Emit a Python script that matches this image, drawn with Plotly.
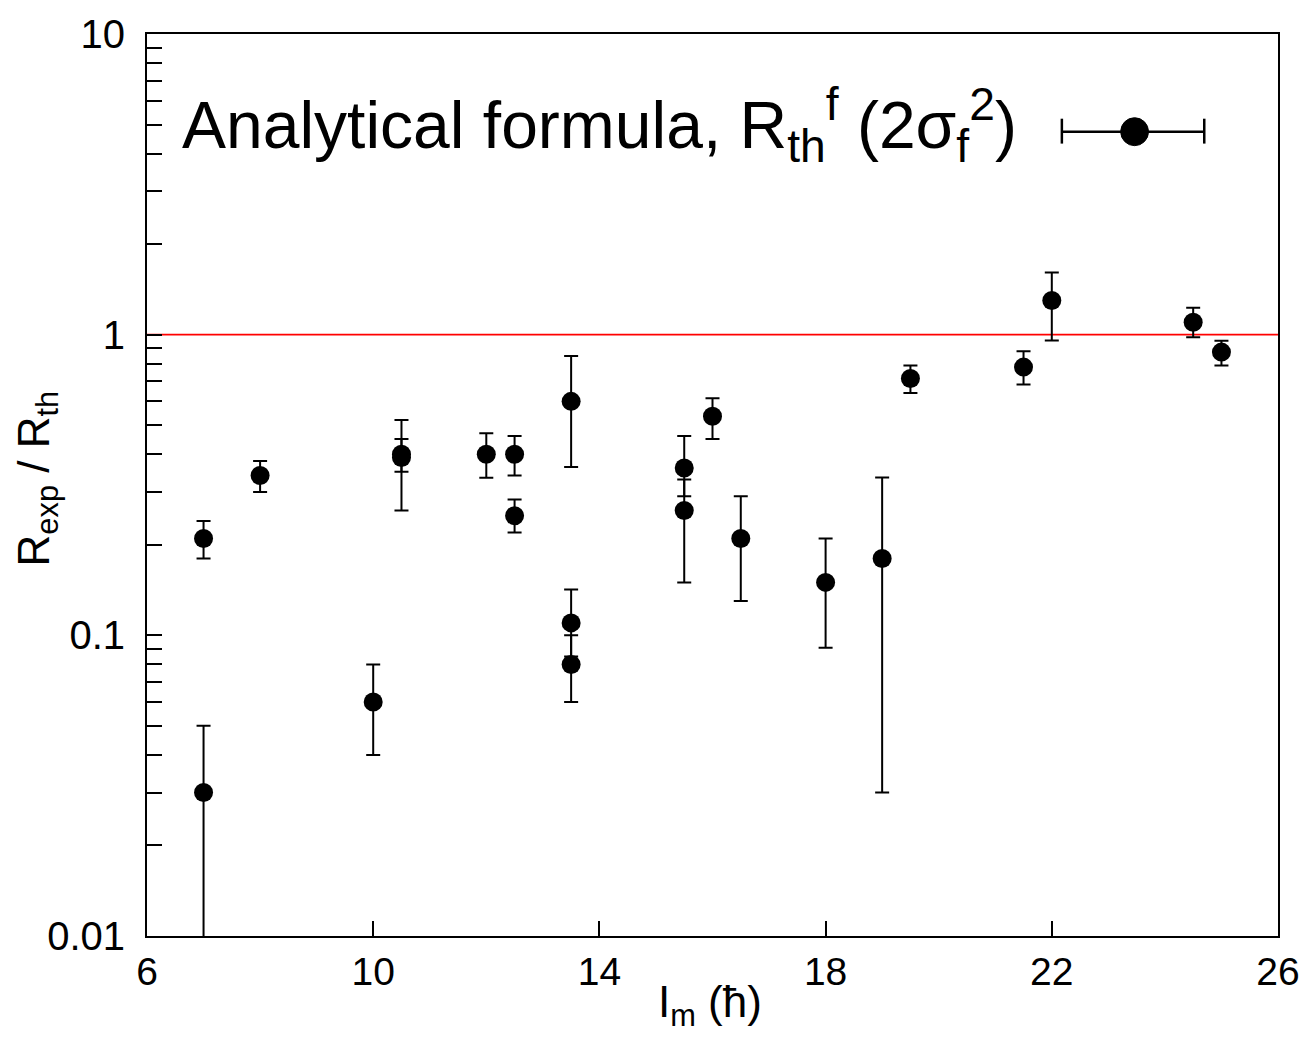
import plotly.graph_objects as go

# Measured ratio R_exp / R_th versus mean angular momentum I_m
im = [7.0, 7.0, 8.0, 10.0, 10.5, 10.5, 12.0, 12.5, 12.5, 13.5, 13.5, 13.5,
      15.5, 15.5, 16.0, 16.5, 18.0, 19.0, 19.5, 21.5, 22.0, 24.5, 25.0]
ratio = [0.21, 0.030, 0.34, 0.060, 0.40, 0.39, 0.40, 0.40, 0.25, 0.60, 0.11, 0.080,
         0.36, 0.26, 0.535, 0.21, 0.15, 0.18, 0.715, 0.78, 1.30, 1.10, 0.875]
ratio_hi = [0.24, 0.050, 0.38, 0.080, 0.45, 0.52, 0.47, 0.46, 0.283, 0.85, 0.142, 0.10,
            0.46, 0.33, 0.615, 0.29, 0.21, 0.335, 0.79, 0.88, 1.61, 1.23, 0.955]
ratio_lo = [0.18, 0.004, 0.30, 0.040, 0.35, 0.26, 0.334, 0.34, 0.22, 0.363, 0.085, 0.060,
            0.29, 0.15, 0.45, 0.13, 0.091, 0.030, 0.64, 0.683, 0.956, 0.98, 0.79]

x_ticks = [6, 10, 14, 18, 22, 26]
decades = [0.01, 0.1, 1, 10]
decade_labels = ["0.01", "0.1", "1", "10"]
reference_level = 1.0

FONT = "Liberation Sans, Arial, Helvetica, sans-serif"

# major + minor log ticks (minor ones unlabeled)
y_tickvals, y_ticktext = [], []
for d, lab in zip(decades, decade_labels):
    y_tickvals.append(d)
    y_ticktext.append(lab)
    if d < 10:
        for m in range(2, 10):
            y_tickvals.append(d * m)
            y_ticktext.append("")

err_plus = [h - r for h, r in zip(ratio_hi, ratio)]
err_minus = [r - l for r, l in zip(ratio, ratio_lo)]

fig = go.Figure()

fig.add_trace(go.Scatter(
    x=[x_ticks[0], x_ticks[-1]], y=[reference_level, reference_level],
    mode="lines", line=dict(color="#ff0000", width=1.8),
    hoverinfo="skip", showlegend=False,
))

fig.add_trace(go.Scatter(
    x=im, y=ratio, mode="markers",
    marker=dict(size=19, color="black"),
    error_y=dict(type="data", symmetric=False, array=err_plus, arrayminus=err_minus,
                 color="black", thickness=2, width=7),
    showlegend=False,
))

fig.update_layout(
    width=1312, height=1038,
    margin=dict(l=147, r=30, t=31, b=102),
    paper_bgcolor="white", plot_bgcolor="white",
    font=dict(family=FONT, color="black", size=39),
    xaxis=dict(
        range=[6, 26], tickvals=x_ticks, ticktext=[str(v) for v in x_ticks],
        ticks="inside", ticklen=15, tickwidth=2, tickcolor="black",
        showline=True, linecolor="black", linewidth=2, mirror=True,
        showgrid=False, zeroline=False, ticklabelstandoff=0,
        tickfont=dict(size=39),
    ),
    yaxis=dict(
        type="log", range=[-2, 1], tickvals=y_tickvals, ticktext=y_ticktext,
        ticks="inside", ticklen=15, tickwidth=2, tickcolor="black",
        showline=True, linecolor="black", linewidth=2, mirror=True,
        showgrid=False, zeroline=False, ticklabelstandoff=12,
        tickfont=dict(size=40),
    ),
)

# axis titles
fig.add_annotation(
    xref="paper", yref="paper", x=-0.0975, y=0.507,
    text="R<sub>exp</sub> / R<sub>th</sub>", textangle=-90, showarrow=False,
    font=dict(size=44), xanchor="center", yanchor="middle",
)
fig.add_annotation(
    xref="paper", yref="paper", x=0.498, y=-0.077,
    text="I<sub>m</sub> (ħ)", showarrow=False,
    font=dict(size=44), xanchor="center", yanchor="middle",
)

# legend entry
fig.add_annotation(
    xref="paper", yref="paper", x=0.0295, y=0.899,
    text="Analytical formula, R<sub>th</sub><sup>f</sup> (2σ<sub>f</sub><sup>2</sup>)",
    showarrow=False, font=dict(size=66), xanchor="left", yanchor="middle",
)
key = dict(xref="paper", yref="paper", line=dict(color="black", width=2.5))
fig.add_shape(type="line", x0=0.8089, x1=0.9348, y0=0.8917, y1=0.8917, **key)
fig.add_shape(type="line", x0=0.8089, x1=0.8089, y0=0.8785, y1=0.9061, **key)
fig.add_shape(type="line", x0=0.9348, x1=0.9348, y0=0.8785, y1=0.9061, **key)
fig.add_shape(type="circle", x0=0.8609, x1=0.8855, y0=0.8762, y1=0.9072,
              xref="paper", yref="paper", fillcolor="black", line=dict(color="black", width=1))

fig.write_html("out.html")
